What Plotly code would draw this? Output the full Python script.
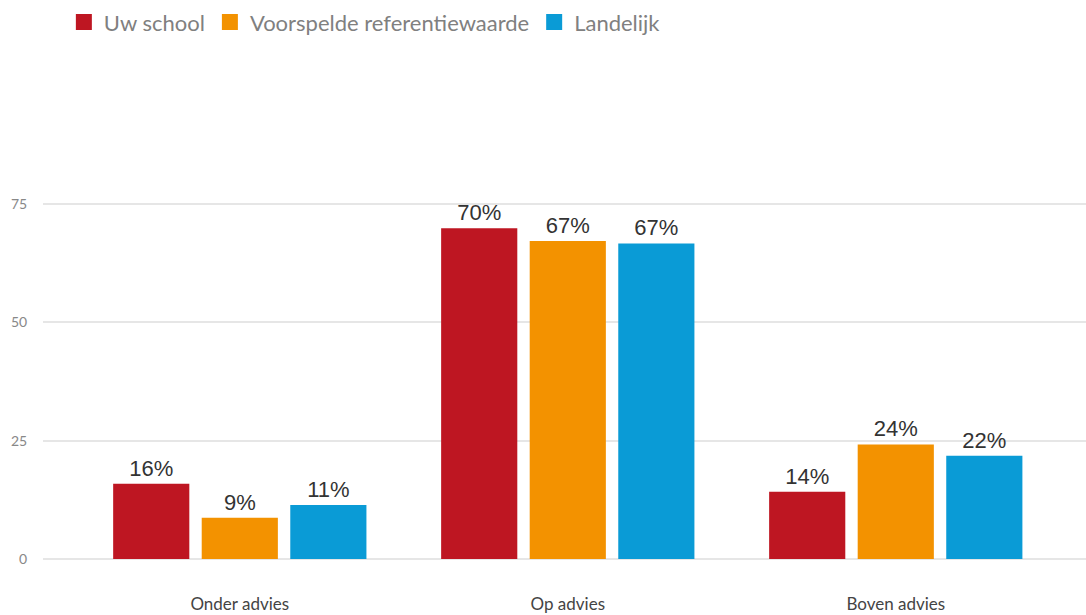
import plotly.graph_objects as go

categories = ["Onder advies", "Op advies", "Boven advies"]
series_names = ["Uw school", "Voorspelde referentiewaarde", "Landelijk"]
uw_school = [15.9, 69.9, 14.2]
voorspeld = [8.7, 67.2, 24.2]
landelijk = [11.4, 66.7, 21.8]
colors = ["#be1622", "#f39200", "#0a9bd6"]
y_ticks = [0, 25, 50, 75]

fig = go.Figure()
for name, vals, col in zip(series_names, [uw_school, voorspeld, landelijk], colors):
    fig.add_trace(go.Bar(
        x=categories, y=vals, name=name, showlegend=False,
        marker=dict(color=col, line=dict(width=0)),
        text=[f"{round(v)}%" for v in vals], textposition="outside",
        textfont=dict(family="Liberation Sans, Arial", size=22, color="#333333"),
        cliponaxis=False,
    ))
    fig.add_trace(go.Scatter(
        x=[None], y=[None], mode="markers", name=name,
        marker=dict(symbol="square", size=16, color=col),
    ))

fig.update_layout(
    width=1086, height=615,
    margin=dict(l=43, r=0, t=100, b=56),
    plot_bgcolor="white", paper_bgcolor="white",
    barmode="group", bargap=0.19, bargroupgap=0.14,
    showlegend=True,
    legend=dict(orientation="h", x=0.02, xanchor="left", y=1.215, yanchor="top",
                font=dict(family="Lato", size=22, color="#808080"),
                itemsizing="trace", traceorder="normal"),
    xaxis=dict(range=[-0.6, 2.58], showgrid=False, zeroline=False, showline=False,
               automargin=False,
               tickfont=dict(family="Lato", size=17, color="#444444"),
               ticks="outside", ticklen=30, tickcolor="rgba(0,0,0,0)"),
    yaxis=dict(range=[0, 97], tickvals=y_ticks, showgrid=True, gridcolor="#e6e6e6",
               gridwidth=2, zeroline=True, zerolinecolor="#e6e6e6", zerolinewidth=2,
               showline=False, automargin=False,
               tickfont=dict(family="Lato", size=14, color="#888888"),
               ticks="outside", ticklen=12, tickcolor="rgba(0,0,0,0)"),
)

fig.write_html("out.html", config={"displayModeBar": False},
               post_script="document.body.style.margin='0';document.body.style.overflow='hidden';")
